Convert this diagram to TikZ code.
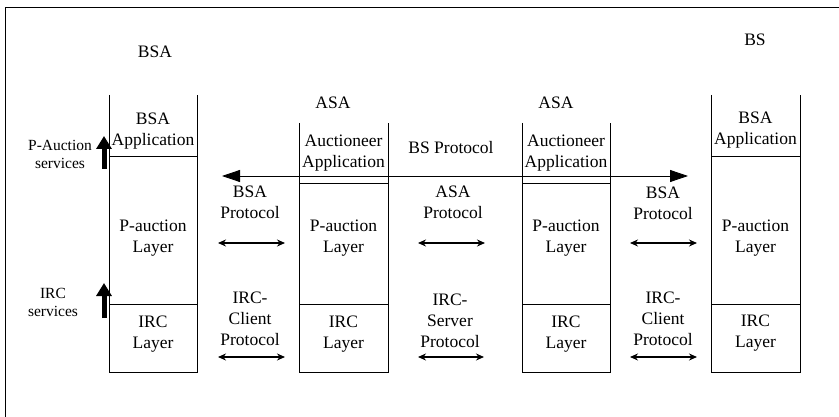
\documentclass[tikz,border=0pt]{standalone}
\usepackage{fontspec}
\setmainfont{Liberation Serif}
\usetikzlibrary{arrows.meta}
\tikzset{
  lbl/.style={font=\fontsize{17.5}{21}\selectfont, align=center, inner sep=0pt},
  sidelbl/.style={font=\fontsize{15.5}{18}\selectfont, align=center, inner sep=0pt},
  stackline/.style={line width=0.9pt, black},
  frameline/.style={line width=1pt, black},
  dblarrow/.style={line width=1.2pt, {Stealth[length=8pt,width=7pt]}-{Stealth[length=8pt,width=7pt]}},
  bsarrow/.style={line width=0.8pt, {Triangle[length=18pt,width=12pt]}-{Triangle[length=18pt,width=12pt]}},
  svcarrow/.style={line width=5pt, -{Triangle[length=13pt,width=15pt]}}
}
\begin{document}
\begin{tikzpicture}[x=1pt,y=-1pt]
\useasboundingbox (0,0) rectangle (839,417);
% outer frame (left and top edges)
\draw[frameline] (5,417) -- (5,8) -- (839,8);

% protocol stacks
\draw[stackline] (109,95) -- (109,372) -- (197,372) -- (197,95);
\draw[stackline] (109,156) -- (197,156) (109,304) -- (197,304);
\draw[stackline] (299,123) -- (299,372) -- (388,372) -- (388,123);
\draw[stackline] (299,183) -- (388,183) (299,304) -- (388,304);
\draw[stackline] (522,123) -- (522,372) -- (610,372) -- (610,123);
\draw[stackline] (522,183) -- (610,183) (522,304) -- (610,304);
\draw[stackline] (711,95) -- (711,372) -- (800,372) -- (800,95);
\draw[stackline] (711,156) -- (800,156) (711,304) -- (800,304);

% stack titles
\node[lbl] (tBSA) at (155,52) {BSA};
\node[lbl] (tBS)  at (755,40) {BS};
\node[lbl] (tASA1) at (333,103) {ASA};
\node[lbl] (tASA2) at (556,103) {ASA};

% layer texts
\node[lbl] (app1) at (153,131) {BSA\\Application};
\node[lbl] (pa1)  at (153,238) {P-auction\\Layer};
\node[lbl] (irc1) at (153,334) {IRC\\Layer};
\node[lbl] (app2) at (343.5,153) {Auctioneer\\Application};
\node[lbl] (pa2)  at (343.5,238) {P-auction\\Layer};
\node[lbl] (irc2) at (343.5,334) {IRC\\Layer};
\node[lbl] (app3) at (566,153) {Auctioneer\\Application};
\node[lbl] (pa3)  at (566,238) {P-auction\\Layer};
\node[lbl] (irc3) at (566,334) {IRC\\Layer};
\node[lbl] (app4) at (755.5,130) {BSA\\Application};
\node[lbl] (pa4)  at (755.5,238) {P-auction\\Layer};
\node[lbl] (irc4) at (755.5,333) {IRC\\Layer};

% protocol labels
\node[lbl] (bsp) at (451,148) {BS Protocol};
\node[lbl] (bsa1p) at (250,202) {BSA\\Protocol};
\node[lbl] (asap)  at (453,202) {ASA\\Protocol};
\node[lbl] (bsa2p) at (663,203) {BSA\\Protocol};
\node[lbl] (ircc1) at (250,319) {IRC-\\Client\\Protocol};
\node[lbl] (ircs)  at (450,321) {IRC-\\Server\\Protocol};
\node[lbl] (ircc2) at (663,319) {IRC-\\Client\\Protocol};

% arrow end points
\coordinate (bsL) at (222,176);
\coordinate (bsR) at (688,176);
\coordinate (p1a) at (218,243); \coordinate (p1b) at (285,243);
\coordinate (p2a) at (418,243); \coordinate (p2b) at (485,243);
\coordinate (p3a) at (630,243); \coordinate (p3b) at (697,243);
\coordinate (i1a) at (218,357); \coordinate (i1b) at (285,357);
\coordinate (i2a) at (418,357); \coordinate (i2b) at (484,357);
\coordinate (i3a) at (630,357); \coordinate (i3b) at (697,357);

\draw[bsarrow] (bsL) -- (bsR);
\draw[dblarrow] (p1a) -- (p1b);
\draw[dblarrow] (p2a) -- (p2b);
\draw[dblarrow] (p3a) -- (p3b);
\draw[dblarrow] (i1a) -- (i1b);
\draw[dblarrow] (i2a) -- (i2b);
\draw[dblarrow] (i3a) -- (i3b);

% service arrows on the left
\node[sidelbl] (pasvc) at (60,154) {P-Auction\\services};
\node[sidelbl] (ircsvc) at (53,302) {IRC\\services};
\coordinate (pas0) at (104,169); \coordinate (pas1) at (104,136);
\coordinate (irs0) at (104,318); \coordinate (irs1) at (104,283);
\draw[svcarrow] (pas0) -- (pas1);
\draw[svcarrow] (irs0) -- (irs1);
\end{tikzpicture}
\end{document}
